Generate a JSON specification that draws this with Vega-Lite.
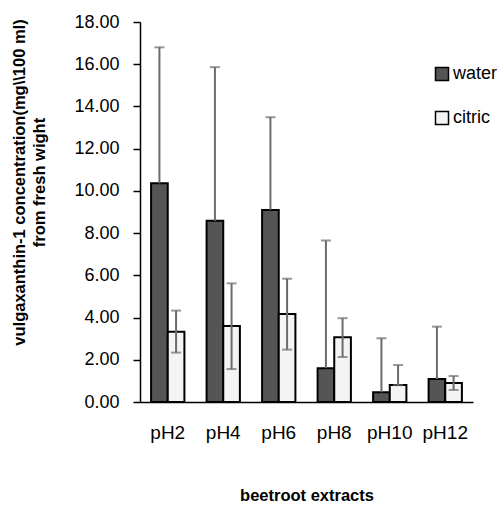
{
  "$schema": "https://vega.github.io/schema/vega-lite/v6.json",
  "autosize": "none",
  "width": 333,
  "height": 380,
  "padding": {"left": 140, "top": 22, "right": 29, "bottom": 104},
  "background": "white",
  "config": {
    "view": {"stroke": null},
    "font": "Liberation Sans",
    "axis": {"labelFont": "Liberation Sans", "titleFont": "Liberation Sans", "labelColor": "black", "titleColor": "black", "domainColor": "black", "tickColor": "black", "grid": false}
  },
  "data": {
    "values": [
      {"ph": "pH2", "type": "water", "value": 10.36, "lo": 10.36, "hi": 16.8},
      {"ph": "pH2", "type": "citric", "value": 3.33, "lo": 2.34, "hi": 4.33},
      {"ph": "pH4", "type": "water", "value": 8.58, "lo": 8.58, "hi": 15.86},
      {"ph": "pH4", "type": "citric", "value": 3.6, "lo": 1.56, "hi": 5.62},
      {"ph": "pH6", "type": "water", "value": 9.1, "lo": 9.1, "hi": 13.49},
      {"ph": "pH6", "type": "citric", "value": 4.17, "lo": 2.48, "hi": 5.84},
      {"ph": "pH8", "type": "water", "value": 1.6, "lo": 1.6, "hi": 7.65},
      {"ph": "pH8", "type": "citric", "value": 3.07, "lo": 2.13, "hi": 3.97},
      {"ph": "pH10", "type": "water", "value": 0.46, "lo": 0.46, "hi": 3.02},
      {"ph": "pH10", "type": "citric", "value": 0.8, "lo": 0.8, "hi": 1.75},
      {"ph": "pH12", "type": "water", "value": 1.09, "lo": 1.09, "hi": 3.57},
      {"ph": "pH12", "type": "citric", "value": 0.9, "lo": 0.57, "hi": 1.23}
    ]
  },
  "encoding": {
    "x": {
      "field": "ph", "type": "nominal",
      "sort": ["pH2", "pH4", "pH6", "pH8", "pH10", "pH12"],
      "scale": {"paddingInner": 0.4, "paddingOuter": 0.2},
      "axis": {
        "title": "beetroot extracts", "titleFontSize": 16.5, "titleFontWeight": "bold",
        "titleY": 93, "titleBaseline": "middle",
        "labelAngle": 0, "labelFontSize": 19, "labelPadding": 21,
        "ticks": false, "domainWidth": 1.5
      }
    },
    "xOffset": {"field": "type", "type": "nominal", "sort": ["water", "citric"]}
  },
  "layer": [
    {
      "mark": {"type": "bar", "stroke": "black", "strokeWidth": 2},
      "encoding": {
        "y": {
          "field": "value", "type": "quantitative",
          "scale": {"domain": [0, 18], "nice": false},
          "axis": {
            "title": ["vulgaxanthin-1 concentration(mg\\\\100 ml)", "from fresh wight"],
            "titleFontSize": 16.5, "titleFontWeight": "bold",
            "titleAnchor": "middle", "titleY": 160, "titleX": -129, "titleBaseline": "top", "titleLineHeight": 20,
            "values": [0, 2, 4, 6, 8, 10, 12, 14, 16, 18],
            "format": ".2f", "labelFontSize": 18, "labelPadding": 14,
            "tickSize": 7, "tickWidth": 1.5, "domainWidth": 1.5
          }
        },
        "fill": {
          "field": "type", "type": "nominal",
          "scale": {"domain": ["water", "citric"], "range": ["#555555", "#f4f4f4"]},
          "legend": {
            "title": null, "orient": "none", "legendX": 293, "legendY": 43,
            "symbolType": "square", "symbolSize": 169, "symbolStrokeColor": "black", "symbolStrokeWidth": 1.5,
            "labelFont": "Liberation Sans", "labelFontSize": 18, "labelColor": "black",
            "rowPadding": 24, "padding": 0, "labelOffset": 2
          }
        }
      }
    },
    {
      "mark": {"type": "rule", "stroke": "#6b6b6b", "strokeWidth": 2},
      "encoding": {
        "y": {"field": "lo", "type": "quantitative"},
        "y2": {"field": "hi"}
      }
    },
    {
      "mark": {"type": "tick", "color": "#6b6b6b", "thickness": 2, "size": 10},
      "encoding": {
        "y": {"field": "hi", "type": "quantitative"}
      }
    },
    {
      "transform": [{"filter": "datum.type == 'citric'"}],
      "mark": {"type": "tick", "color": "#6b6b6b", "thickness": 2, "size": 10},
      "encoding": {
        "y": {"field": "lo", "type": "quantitative"}
      }
    }
  ]
}
